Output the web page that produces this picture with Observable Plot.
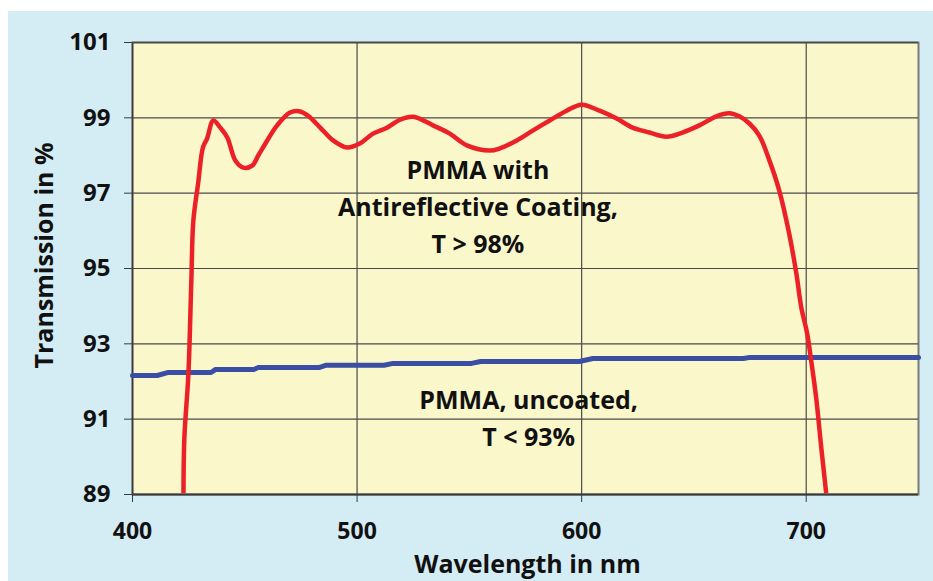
<!DOCTYPE html>
<html>
<head>
<meta charset="utf-8">
<script src="https://cdn.jsdelivr.net/npm/d3@7"></script>
<script src="https://cdn.jsdelivr.net/npm/@observablehq/plot@0.6"></script>
<style>
  html, body { margin: 0; padding: 0; background: #ffffff; }
  #wrap { position: relative; width: 933px; height: 581px; overflow: hidden; }
  #bg { position: absolute; left: 8px; top: 11px; right: 0; bottom: 0; background: #d4ecf4; }
  #chart { position: absolute; left: 0; top: 0; }
</style>
</head>
<body>
<div id="wrap"><div id="bg"></div><div id="chart"></div></div>
<script>
// Coated PMMA (red curve): wavelength in nm, transmission in %
const coatedWavelength = [422.7, 423.1, 424.9, 426.2, 427.1, 429.2, 431.4, 433.2, 436.0, 439.1, 442.2, 445.8, 449.3, 453.3, 456.0, 460.0, 464.4, 470.2, 474.7, 479.1, 483.6, 489.3, 495.6, 501.3, 507.1, 513.3, 519.1, 525.0, 533.8, 541.3, 548.9, 559.1, 563.6, 571.1, 578.2, 585.8, 593.3, 600.0, 608.0, 615.6, 622.7, 630.2, 637.8, 644.9, 652.4, 660.0, 665.8, 670.2, 674.7, 679.1, 683.6, 688.0, 692.4, 695.6, 697.8, 700.4, 702.2, 704.4, 706.7, 708.9];
const coatedTransmission = [89.03, 90.51, 92.21, 94.68, 96.27, 97.25, 98.22, 98.45, 98.93, 98.74, 98.48, 97.87, 97.68, 97.73, 98.00, 98.40, 98.80, 99.14, 99.17, 99.01, 98.74, 98.40, 98.21, 98.32, 98.58, 98.74, 98.95, 99.03, 98.80, 98.58, 98.27, 98.13, 98.19, 98.40, 98.66, 98.93, 99.19, 99.35, 99.19, 98.98, 98.74, 98.61, 98.50, 98.61, 98.80, 99.04, 99.12, 99.04, 98.85, 98.53, 97.87, 97.07, 95.93, 94.87, 93.97, 93.28, 92.56, 91.58, 90.25, 89.03];

// Uncoated PMMA (blue line)
const uncoatedWavelength = [400, 411, 416, 435, 437, 454, 456, 483, 486, 512, 516, 551, 555, 599, 605, 672, 675, 750];
const uncoatedTransmission = [92.16, 92.16, 92.24, 92.24, 92.32, 92.32, 92.37, 92.37, 92.43, 92.43, 92.48, 92.48, 92.53, 92.53, 92.61, 92.61, 92.64, 92.64];

// Axis ticks
const xTicks = [400, 500, 600, 700];
const yTicks = [89, 91, 93, 95, 97, 99, 101];

// Annotations (anchored in data coordinates)
const annotationText = ["PMMA with\nAntireflective Coating,\nT > 98%", "PMMA, uncoated,\nT < 93%"];
const annotationWavelength = [553.8, 576.4];
const annotationTransmission = [96.72, 91.08];

const xLabel = "Wavelength in nm";
const yLabel = "Transmission in %";

const coated = coatedWavelength.map((w, i) => ({w, t: coatedTransmission[i]}));
const uncoated = uncoatedWavelength.map((w, i) => ({w, t: uncoatedTransmission[i]}));
const annotations = annotationText.map((text, i) => ({text, w: annotationWavelength[i], t: annotationTransmission[i]}));

const FONT = "'Open Sans', 'Noto Sans', sans-serif";

const chart = Plot.plot({
  width: 933,
  height: 581,
  marginLeft: 132,
  marginRight: 15,
  marginTop: 42,
  marginBottom: 87,
  style: {background: "transparent", fontFamily: FONT, overflow: "visible"},
  x: {domain: [400, 750], ticks: xTicks},
  y: {domain: [89, 101], ticks: yTicks},
  marks: [
    Plot.frame({fill: "#faf7cb", stroke: "#7a7a7a", strokeWidth: 2}),
    Plot.gridY(yTicks.filter(d => d > 89 && d < 101), {stroke: "#4a4a4a", strokeOpacity: 1, strokeWidth: 1.2}),
    Plot.gridX(xTicks.filter(d => d > 400), {stroke: "#4a4a4a", strokeOpacity: 1, strokeWidth: 1.2}),
    Plot.ruleY([89], {stroke: "#3a3a3a", strokeWidth: 2}),
    Plot.ruleX([400], {stroke: "#3a3a3a", strokeWidth: 1.5}),
    Plot.ruleY([101], {stroke: "#4a4a4a", strokeWidth: 1.5}),
    Plot.axisY(yTicks, {tickSize: 8, tickPadding: 14, fontSize: 24, fontWeight: "bold", stroke: "#3a3a3a", fill: "#111", label: null}),
    Plot.axisX(xTicks, {tickSize: 8, tickPadding: 20, fontSize: 23, fontWeight: "bold", stroke: "#3a3a3a", fill: "#111", label: null}),
    Plot.line(uncoated, {x: "w", y: "t", stroke: "#3a4ea3", strokeWidth: 5, strokeLinejoin: "round"}),
    Plot.line(coated, {x: "w", y: "t", stroke: "#ec2027", strokeWidth: 4.5, curve: "catmull-rom", clip: true, strokeLinejoin: "round", strokeLinecap: "butt"}),
    Plot.text(annotations, {x: "w", y: "t", text: "text", fontSize: 25, fontWeight: "bold", fill: "#111", lineHeight: 1.48, textAnchor: "middle", lineAnchor: "middle"}),
    Plot.text([xLabel], {frameAnchor: "bottom", dx: 2, dy: 70, fontSize: 25, fontWeight: "bold", fill: "#111", textAnchor: "middle", lineAnchor: "middle"}),
    Plot.text([yLabel], {frameAnchor: "left", dx: -88, dy: -13, rotate: -90, fontSize: 25, fontWeight: "bold", fill: "#111", textAnchor: "middle", lineAnchor: "middle"})
  ]
});
document.getElementById("chart").appendChild(chart);
</script>
</body>
</html>
